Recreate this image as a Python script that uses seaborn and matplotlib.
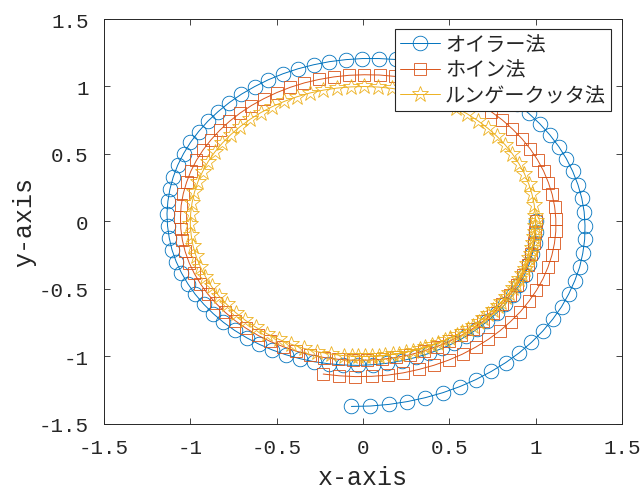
import matplotlib
matplotlib.use('Agg')
import matplotlib.pyplot as plt
import seaborn as sns

# 各手法の軌道 (画像から読み取った座標)
euler_x = [1.000, 1.000, 0.994, 0.981, 0.962, 0.936, 0.905, 0.867, 0.824, 0.775,
           0.721, 0.661, 0.598, 0.530, 0.458, 0.383, 0.305, 0.224, 0.141, 0.057,
           -0.028, -0.113, -0.198, -0.282, -0.365, -0.447, -0.526, -0.602, -0.674, -0.743,
           -0.808, -0.867, -0.922, -0.971, -1.014, -1.051, -1.082, -1.106, -1.122, -1.132,
           -1.135, -1.130, -1.118, -1.099, -1.073, -1.039, -0.999, -0.952, -0.899, -0.839,
           -0.774, -0.704, -0.628, -0.548, -0.464, -0.377, -0.286, -0.194, -0.099, -0.003,
           0.094, 0.190, 0.286, 0.381, 0.474, 0.565, 0.652, 0.736, 0.816, 0.891,
           0.960, 1.024, 1.082, 1.134, 1.178, 1.215, 1.245, 1.267, 1.281, 1.286,
           1.284, 1.273, 1.255, 1.227, 1.192, 1.150, 1.099, 1.041, 0.976, 0.905,
           0.827, 0.743, 0.654, 0.561, 0.463, 0.361, 0.257, 0.150, 0.042, -0.067]
euler_y = [0.000, -0.080, -0.160, -0.239, -0.318, -0.395, -0.470, -0.542, -0.612, -0.677,
           -0.739, -0.797, -0.850, -0.898, -0.940, -0.977, -1.007, -1.032, -1.050, -1.061,
           -1.066, -1.063, -1.054, -1.039, -1.016, -0.987, -0.951, -0.909, -0.861, -0.807,
           -0.747, -0.683, -0.613, -0.540, -0.462, -0.381, -0.297, -0.210, -0.122, -0.032,
           0.059, 0.149, 0.240, 0.329, 0.417, 0.503, 0.586, 0.666, 0.742, 0.814,
           0.881, 0.943, 0.999, 1.050, 1.094, 1.131, 1.161, 1.184, 1.199, 1.207,
           1.207, 1.200, 1.185, 1.162, 1.131, 1.093, 1.048, 0.996, 0.937, 0.872,
           0.801, 0.724, 0.642, 0.555, 0.465, 0.371, 0.273, 0.174, 0.072, -0.030,
           -0.133, -0.236, -0.338, -0.438, -0.536, -0.632, -0.724, -0.812, -0.895, -0.973,
           -1.045, -1.111, -1.171, -1.223, -1.268, -1.305, -1.334, -1.355, -1.367, -1.370]

heun_x = [1.000, 0.998, 0.990, 0.975, 0.953, 0.925, 0.891, 0.851, 0.805, 0.753,
          0.697, 0.636, 0.570, 0.500, 0.427, 0.351, 0.272, 0.191, 0.109, 0.026,
          -0.058, -0.142, -0.224, -0.306, -0.386, -0.463, -0.538, -0.609, -0.677, -0.740,
          -0.798, -0.851, -0.899, -0.941, -0.977, -1.007, -1.030, -1.046, -1.055, -1.057,
          -1.053, -1.041, -1.022, -0.997, -0.965, -0.926, -0.881, -0.830, -0.774, -0.712,
          -0.646, -0.574, -0.499, -0.421, -0.339, -0.255, -0.169, -0.081, 0.007, 0.096,
          0.184, 0.271, 0.357, 0.440, 0.521, 0.598, 0.672, 0.742, 0.807, 0.866,
          0.921, 0.969, 1.011, 1.046, 1.074, 1.096, 1.110, 1.117, 1.117, 1.109,
          1.094, 1.071, 1.042, 1.005, 0.961, 0.912, 0.855, 0.794, 0.726, 0.654,
          0.577, 0.496, 0.411, 0.324, 0.234, 0.143, 0.050, -0.044, -0.137, -0.230]
heun_y = [0.000, -0.081, -0.163, -0.243, -0.322, -0.399, -0.473, -0.545, -0.613, -0.677,
          -0.737, -0.793, -0.843, -0.888, -0.927, -0.960, -0.987, -1.007, -1.021, -1.027,
          -1.028, -1.021, -1.008, -0.987, -0.961, -0.927, -0.888, -0.843, -0.791, -0.735,
          -0.673, -0.607, -0.537, -0.462, -0.385, -0.305, -0.222, -0.138, -0.053, 0.033,
          0.119, 0.205, 0.289, 0.372, 0.452, 0.530, 0.604, 0.675, 0.741, 0.803,
          0.859, 0.910, 0.955, 0.994, 1.027, 1.052, 1.071, 1.083, 1.087, 1.085,
          1.075, 1.058, 1.034, 1.003, 0.965, 0.921, 0.870, 0.814, 0.752, 0.685,
          0.613, 0.537, 0.457, 0.374, 0.288, 0.200, 0.111, 0.020, -0.071, -0.162,
          -0.251, -0.340, -0.426, -0.510, -0.591, -0.668, -0.741, -0.809, -0.873, -0.930,
          -0.982, -1.027, -1.065, -1.096, -1.121, -1.138, -1.147, -1.149, -1.143, -1.130]

rk_x = [1.000, 0.997, 0.987, 0.971, 0.949, 0.921, 0.887, 0.847, 0.802, 0.752,
        0.697, 0.637, 0.574, 0.506, 0.436, 0.362, 0.287, 0.209, 0.130, 0.051,
        -0.029, -0.109, -0.188, -0.266, -0.342, -0.416, -0.487, -0.556, -0.620, -0.681,
        -0.737, -0.789, -0.836, -0.877, -0.912, -0.942, -0.966, -0.984, -0.995, -1.000,
        -0.998, -0.990, -0.976, -0.956, -0.929, -0.897, -0.859, -0.815, -0.766, -0.712,
        -0.654, -0.591, -0.525, -0.455, -0.382, -0.307, -0.230, -0.152, -0.072, 0.008,
        0.088, 0.167, 0.245, 0.322, 0.396, 0.469, 0.538, 0.603, 0.665, 0.723,
        0.776, 0.824, 0.866, 0.903, 0.935, 0.960, 0.979, 0.992, 0.999, 0.999,
        0.993, 0.981, 0.962, 0.937, 0.906, 0.869, 0.827, 0.780, 0.727, 0.670,
        0.608, 0.543, 0.474, 0.402, 0.328, 0.251, 0.173, 0.094, 0.014, -0.066]
rk_y = [0.000, -0.080, -0.159, -0.238, -0.315, -0.389, -0.462, -0.531, -0.597, -0.659,
        -0.717, -0.771, -0.819, -0.862, -0.900, -0.932, -0.958, -0.978, -0.991, -0.999,
        -1.000, -0.994, -0.982, -0.964, -0.940, -0.909, -0.873, -0.831, -0.784, -0.732,
        -0.675, -0.614, -0.549, -0.481, -0.409, -0.335, -0.259, -0.181, -0.101, -0.022,
        0.058, 0.138, 0.217, 0.294, 0.369, 0.443, 0.513, 0.580, 0.643, 0.702,
        0.757, 0.807, 0.851, 0.890, 0.924, 0.952, 0.973, 0.988, 0.997, 1.000,
        0.996, 0.986, 0.970, 0.947, 0.918, 0.883, 0.843, 0.798, 0.747, 0.691,
        0.631, 0.567, 0.500, 0.429, 0.355, 0.279, 0.202, 0.123, 0.043, -0.037,
        -0.117, -0.196, -0.273, -0.349, -0.423, -0.494, -0.562, -0.626, -0.687, -0.743,
        -0.794, -0.840, -0.880, -0.916, -0.945, -0.968, -0.985, -0.996, -1.000, -0.998]

labels = ['オイラー法', 'ホイン法', 'ルンゲークッタ法']
ticks = [-1.5, -1, -0.5, 0, 0.5, 1, 1.5]
tick_labels = ['-1.5', '-1', '-0.5', '0', '0.5', '1', '1.5']

sns.set_style('ticks')
plt.rcParams['font.family'] = ['Liberation Mono', 'DejaVu Sans Mono']
plt.rcParams['axes.unicode_minus'] = False

fig = plt.figure(figsize=(6.41, 4.89), dpi=100)
ax = fig.add_axes([0.1622, 0.1309, 0.8081, 0.8282])

# MATLAB の既定色
styles = [
    (euler_x, euler_y, labels[0], '#0072BD', 'o', 10.5),
    (heun_x, heun_y, labels[1], '#D95319', 's', 9),
    (rk_x, rk_y, labels[2], '#EDB120', '*', 12),
]
for xs, ys, lab, col, mk, ms in styles:
    sns.lineplot(x=xs, y=ys, sort=False, estimator=None, ax=ax,
                 color=col, lw=0.7, marker=mk, markersize=ms,
                 markerfacecolor='none', markeredgecolor=col,
                 markeredgewidth=0.6, label=lab)

ax.set_xlim(-1.5, 1.5)
ax.set_ylim(-1.5, 1.5)
ax.set_xticks(ticks)
ax.set_xticklabels(tick_labels)
ax.set_yticks(ticks)
ax.set_yticklabels(tick_labels)
ax.tick_params(direction='in', top=True, right=True, length=4.5, width=0.6,
               labelsize=15, colors='#262626')
ax.tick_params(axis='x', pad=10)
ax.tick_params(axis='y', pad=11)
for sp in ax.spines.values():
    sp.set_visible(True)
    sp.set_color('#262626')
    sp.set_linewidth(0.7)
ax.set_xlabel('x-axis', fontsize=18, color='#262626', labelpad=6)
ax.set_ylabel('y-axis', fontsize=18, color='#262626', labelpad=2)

leg = ax.legend(loc='upper right', bbox_to_anchor=(0.979, 0.975),
                prop={'family': ['Noto Sans CJK JP'], 'size': 14.5},
                frameon=True, fancybox=False, edgecolor='#262626', framealpha=1,
                borderpad=0.25, handlelength=2.0, handletextpad=0.25,
                labelspacing=0.22, borderaxespad=0)
leg.get_frame().set_linewidth(0.8)

fig.savefig('out.png', dpi=100)
